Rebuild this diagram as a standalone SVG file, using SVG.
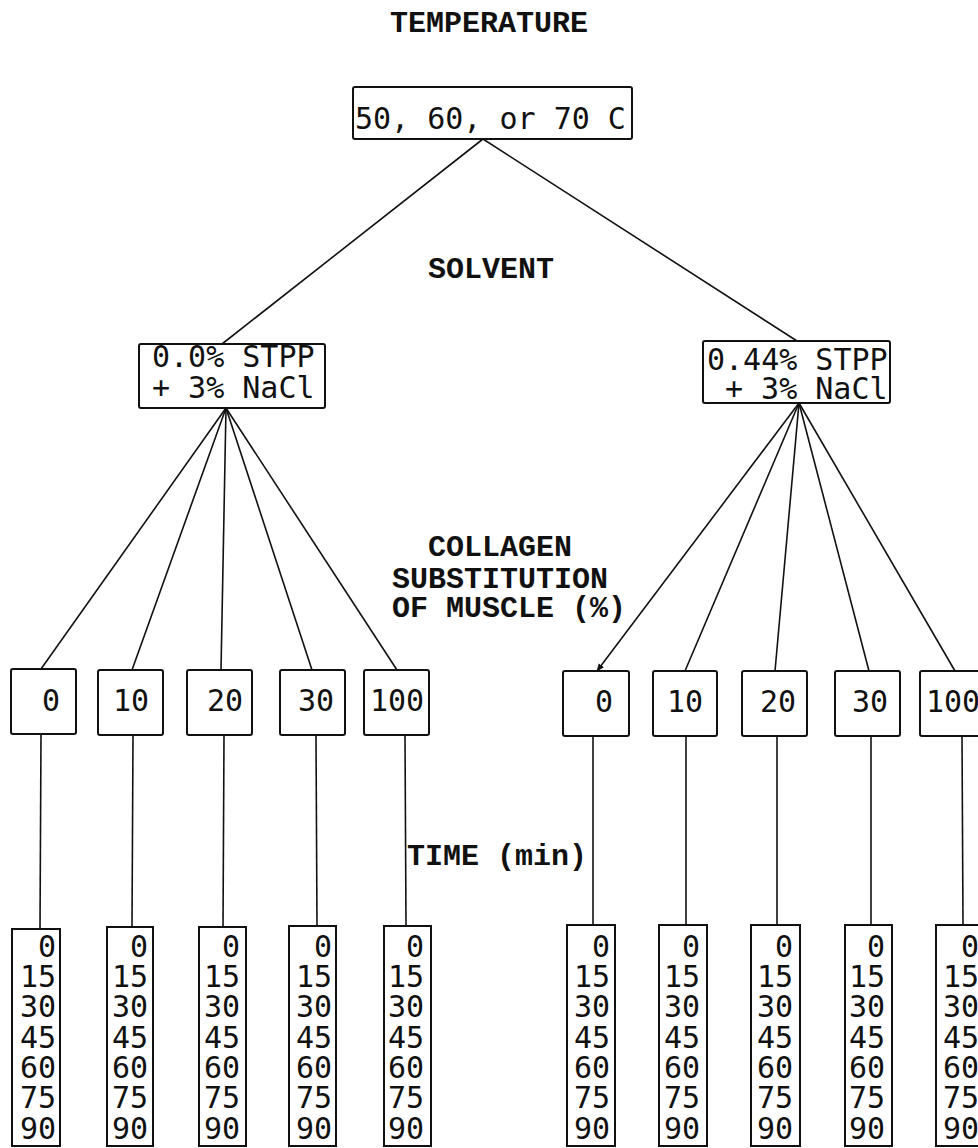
<svg xmlns="http://www.w3.org/2000/svg" width="978" height="1148" viewBox="0 0 978 1148">
<style>
text{font-family:"DejaVu Sans Mono","Liberation Mono",monospace;font-size:30px;fill:#111}
.lbl{font-family:"Liberation Mono","DejaVu Sans Mono",monospace;font-weight:bold;font-size:30px}
.box{fill:#fff;stroke:#111;stroke-width:2}
.c line{stroke:#111;stroke-width:1.6}
</style>
<defs>
<marker id="ah" viewBox="0 0 10 10" refX="9" refY="5" markerWidth="8" markerHeight="8" markerUnits="userSpaceOnUse" orient="auto">
<path d="M0,1 L10,5 L0,9 z" fill="#111"/>
</marker>
<g id="tl" text-anchor="end" font-family="DejaVu Sans Mono, monospace" font-size="30" fill="#111">
<text y="957">0</text><text y="987">15</text><text y="1017">30</text><text y="1048">45</text><text y="1078">60</text><text y="1108">75</text><text y="1139">90</text>
</g>
</defs>
<g id="labels">
<text class="lbl" x="390" y="32">TEMPERATURE</text>
<text class="lbl" x="428" y="278">SOLVENT</text>
<text class="lbl" x="428" y="556">COLLAGEN</text>
<text class="lbl" x="392" y="588">SUBSTITUTION</text>
<text class="lbl" x="392" y="617">OF MUSCLE (%)</text>
<text class="lbl" x="407" y="865">TIME (min)</text>
</g>
<g class="c" id="connectors">
<line x1="483" y1="139" x2="222" y2="344"/>
<line x1="483" y1="139" x2="797" y2="341"/>
<line x1="226" y1="408" x2="41" y2="669"/>
<line x1="226" y1="408" x2="132" y2="670"/>
<line x1="226" y1="408" x2="221" y2="670"/>
<line x1="226" y1="408" x2="312" y2="670"/>
<line x1="226" y1="408" x2="397" y2="670"/>
<line x1="799" y1="403" x2="597" y2="671" marker-end="url(#ah)"/>
<line x1="799" y1="403" x2="685" y2="671"/>
<line x1="799" y1="403" x2="775" y2="671"/>
<line x1="799" y1="403" x2="869" y2="671"/>
<line x1="799" y1="403" x2="955" y2="671"/>
<line x1="41" y1="734" x2="40" y2="929"/>
<line x1="133" y1="735" x2="132" y2="927"/>
<line x1="224" y1="735" x2="223" y2="927"/>
<line x1="316" y1="735" x2="317" y2="926"/>
<line x1="405" y1="735" x2="406" y2="926"/>
<line x1="593" y1="736" x2="593" y2="925"/>
<line x1="686" y1="736" x2="686" y2="925"/>
<line x1="777" y1="736" x2="777" y2="925"/>
<line x1="871" y1="736" x2="871" y2="925"/>
<line x1="962" y1="736" x2="963" y2="925"/>
</g>
<g id="temp"><rect class="box" x="353" y="87" width="279" height="52" rx="2"/><text x="355" y="129">50, 60, or 70 C</text></g>
<g id="solv1"><rect class="box" x="139" y="344" width="186" height="64" rx="2"/><text x="152" y="367">0.0% STPP</text><text x="152" y="398">+ 3% NaCl</text></g>
<g id="solv2"><rect class="box" x="703" y="341" width="187" height="62" rx="2"/><text x="707" y="370">0.44% STPP</text><text x="725" y="399">+ 3% NaCl</text></g>
<g id="c1_0"><rect class="box" x="11" y="669" width="65" height="65" rx="2"/><text x="42" y="711">0</text></g>
<g id="c1_10"><rect class="box" x="98" y="670" width="65" height="65" rx="2"/><text x="113" y="711">10</text></g>
<g id="c1_20"><rect class="box" x="187" y="670" width="65" height="65" rx="2"/><text x="207" y="711">20</text></g>
<g id="c1_30"><rect class="box" x="280" y="670" width="65" height="65" rx="2"/><text x="298" y="711">30</text></g>
<g id="c1_100"><rect class="box" x="364" y="670" width="65" height="65" rx="2"/><text x="370" y="711">100</text></g>
<g id="c2_0"><rect class="box" x="563" y="671" width="66" height="65" rx="2"/><text x="595" y="712">0</text></g>
<g id="c2_10"><rect class="box" x="653" y="671" width="64" height="65" rx="2"/><text x="667" y="712">10</text></g>
<g id="c2_20"><rect class="box" x="742" y="671" width="65" height="65" rx="2"/><text x="760" y="712">20</text></g>
<g id="c2_30"><rect class="box" x="835" y="671" width="65" height="65" rx="2"/><text x="852" y="712">30</text></g>
<g id="c2_100"><rect class="box" x="920" y="671" width="65" height="65" rx="2"/><text x="926" y="712">100</text></g>
<g id="t1_0"><rect class="box" x="12" y="929" width="48" height="217"/><use href="#tl" x="56"/></g>
<g id="t1_10"><rect class="box" x="107" y="927" width="46" height="219"/><use href="#tl" x="148"/></g>
<g id="t1_20"><rect class="box" x="199" y="927" width="47" height="219"/><use href="#tl" x="240"/></g>
<g id="t1_30"><rect class="box" x="289" y="926" width="47" height="220"/><use href="#tl" x="332"/></g>
<g id="t1_100"><rect class="box" x="384" y="926" width="47" height="220"/><use href="#tl" x="424"/></g>
<g id="t2_0"><rect class="box" x="567" y="925" width="48" height="221"/><use href="#tl" x="610"/></g>
<g id="t2_10"><rect class="box" x="659" y="925" width="48" height="221"/><use href="#tl" x="700"/></g>
<g id="t2_20"><rect class="box" x="751" y="925" width="49" height="221"/><use href="#tl" x="793"/></g>
<g id="t2_30"><rect class="box" x="845" y="925" width="47" height="221"/><use href="#tl" x="885"/></g>
<g id="t2_100"><rect class="box" x="936" y="925" width="48" height="221"/><use href="#tl" x="979"/></g>
</svg>
